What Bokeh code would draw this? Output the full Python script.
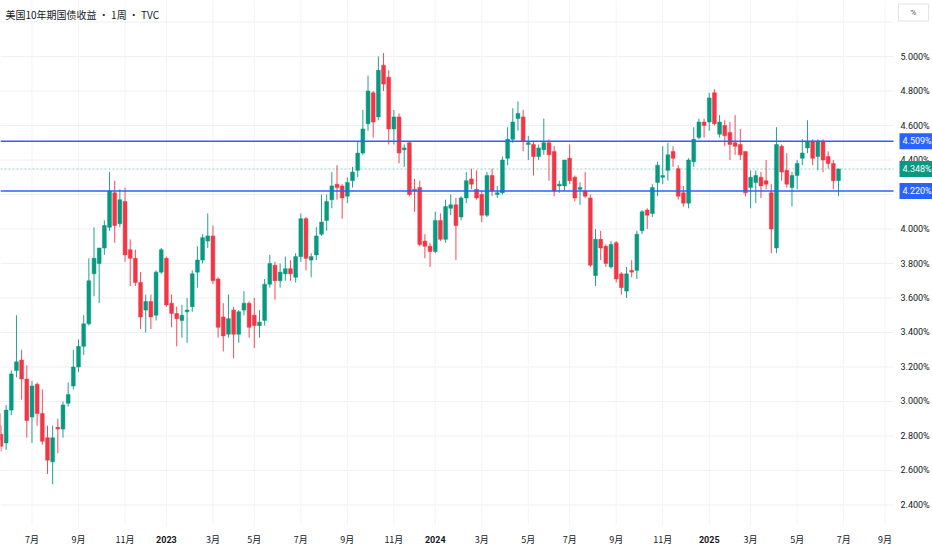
import pandas as pd
from bokeh.plotting import figure
from bokeh.models import Range1d, FixedTicker, PrintfTickFormatter, Label, ColumnDataSource
from bokeh.embed import file_html
from bokeh.resources import INLINE

# ---------------- data ----------------
title_text = "美国10年期国债收益 · 1周 · TVC"
first_week = "2022-05-16"   # weekly bars, one per week from this Monday

open_ = [2.93, 2.81, 2.76, 2.95, 3.18, 3.24, 3.13, 2.91, 3.10, 2.93, 2.79, 2.65, 2.85, 2.84, 2.99, 3.09,
         3.20, 3.32, 3.45, 3.74, 3.80, 3.89, 4.01, 4.21, 4.03, 4.16, 3.88, 3.83, 3.69, 3.53, 3.58, 3.50,
         3.75, 3.83, 3.57, 3.51, 3.47, 3.52, 3.55, 3.75, 3.82, 3.93, 3.96, 3.71, 3.49, 3.39, 3.53, 3.39,
         3.53, 3.57, 3.50, 3.44, 3.47, 3.68, 3.79, 3.70, 3.74, 3.77, 3.72, 3.84, 4.06, 3.82, 3.85, 3.97,
         4.05, 4.17, 4.26, 4.25, 4.19, 4.28, 4.34, 4.44, 4.61, 4.79, 4.65, 4.95, 4.88, 4.58, 4.65, 4.46,
         4.50, 4.23, 4.24, 3.93, 3.90, 3.87, 4.05, 3.94, 4.12, 4.14, 4.07, 4.18, 4.29, 4.23, 4.20, 4.08,
         4.31, 4.20, 4.21, 4.41, 4.52, 4.64, 4.65, 4.49, 4.49, 4.42, 4.46, 4.50, 4.45, 4.25, 4.25, 4.41,
         4.30, 4.23, 4.22, 4.18, 3.73, 3.94, 3.90, 3.78, 3.92, 3.74, 3.64, 3.76, 3.76, 3.99, 4.11, 4.09,
         4.27, 4.30, 4.34, 4.45, 4.35, 4.21, 4.15, 4.39, 4.53, 4.62, 4.62, 4.79, 4.55, 4.60, 4.56, 4.50,
         4.49, 4.45, 4.24, 4.27, 4.30, 4.28, 4.21, 3.89, 4.48, 4.34, 4.24, 4.31, 4.41, 4.47, 4.51, 4.42,
         4.51, 4.42, 4.38, 4.28]
high = [2.99, 2.86, 2.98, 3.18, 3.50, 3.30, 3.21, 3.12, 3.11, 3.07, 2.86, 2.86, 2.90, 3.00, 3.11, 3.30,
        3.36, 3.50, 3.83, 4.01, 3.89, 4.05, 4.33, 4.28, 4.23, 4.24, 3.94, 3.88, 3.75, 3.62, 3.62, 3.76,
        3.89, 3.84, 3.62, 3.55, 3.56, 3.60, 3.76, 3.90, 3.97, 4.09, 4.02, 3.72, 3.57, 3.62, 3.55, 3.53,
        3.64, 3.58, 3.60, 3.53, 3.71, 3.85, 3.81, 3.80, 3.84, 3.82, 3.86, 4.09, 4.07, 3.86, 4.01, 4.20,
        4.20, 4.33, 4.37, 4.26, 4.30, 4.36, 4.51, 4.69, 4.89, 4.80, 5.00, 5.02, 4.92, 4.69, 4.67, 4.49,
        4.51, 4.29, 4.28, 3.97, 3.92, 4.10, 4.09, 4.17, 4.20, 4.18, 4.19, 4.33, 4.35, 4.34, 4.22, 4.33,
        4.35, 4.25, 4.42, 4.59, 4.70, 4.74, 4.69, 4.54, 4.51, 4.49, 4.64, 4.52, 4.48, 4.28, 4.40, 4.49,
        4.31, 4.27, 4.33, 4.20, 4.00, 3.99, 3.91, 3.93, 3.93, 3.75, 3.78, 3.82, 3.99, 4.11, 4.12, 4.26,
        4.39, 4.48, 4.50, 4.48, 4.37, 4.25, 4.41, 4.59, 4.64, 4.64, 4.79, 4.81, 4.66, 4.63, 4.62, 4.66,
        4.58, 4.45, 4.34, 4.34, 4.33, 4.40, 4.26, 4.59, 4.49, 4.44, 4.33, 4.40, 4.52, 4.63, 4.52, 4.52,
        4.52, 4.45, 4.40, 4.35]
low = [2.72, 2.71, 2.72, 2.92, 3.14, 3.01, 2.79, 2.76, 2.86, 2.75, 2.58, 2.52, 2.70, 2.79, 2.97, 3.07,
       3.17, 3.27, 3.44, 3.61, 3.57, 3.85, 3.99, 3.92, 4.01, 3.81, 3.67, 3.67, 3.42, 3.40, 3.42, 3.47,
       3.74, 3.55, 3.43, 3.32, 3.37, 3.34, 3.52, 3.66, 3.80, 3.89, 3.68, 3.37, 3.29, 3.37, 3.25, 3.34,
       3.50, 3.37, 3.31, 3.37, 3.44, 3.66, 3.59, 3.66, 3.70, 3.70, 3.69, 3.81, 3.76, 3.72, 3.82, 3.96,
       3.99, 4.12, 4.17, 4.06, 4.15, 4.24, 4.30, 4.43, 4.57, 4.53, 4.63, 4.80, 4.49, 4.49, 4.38, 4.36,
       4.19, 4.10, 3.90, 3.83, 3.78, 3.86, 3.93, 3.92, 4.08, 3.82, 4.05, 4.15, 4.23, 4.17, 4.04, 4.07,
       4.19, 4.18, 4.20, 4.37, 4.50, 4.57, 4.45, 4.40, 4.31, 4.40, 4.43, 4.28, 4.19, 4.21, 4.22, 4.26,
       4.16, 4.14, 4.18, 3.78, 3.67, 3.82, 3.78, 3.77, 3.69, 3.62, 3.60, 3.72, 3.71, 3.97, 4.00, 4.07,
       4.19, 4.26, 4.28, 4.36, 4.17, 4.13, 4.12, 4.36, 4.52, 4.53, 4.57, 4.60, 4.53, 4.48, 4.40, 4.43,
       4.40, 4.19, 4.12, 4.15, 4.18, 4.23, 3.86, 3.86, 4.28, 4.24, 4.13, 4.23, 4.37, 4.44, 4.37, 4.34,
       4.33, 4.35, 4.23, 4.19]
close_ = [2.78, 2.74, 2.95, 3.16, 3.23, 3.13, 2.89, 3.09, 2.93, 2.77, 2.66, 2.79, 2.84, 2.98, 3.04, 3.20,
          3.32, 3.45, 3.70, 3.83, 3.89, 4.02, 4.22, 4.02, 4.17, 3.85, 3.83, 3.69, 3.49, 3.58, 3.49, 3.75,
          3.88, 3.56, 3.51, 3.48, 3.50, 3.53, 3.74, 3.82, 3.95, 3.96, 3.70, 3.43, 3.38, 3.48, 3.39, 3.52,
          3.57, 3.43, 3.44, 3.46, 3.68, 3.80, 3.70, 3.75, 3.77, 3.74, 3.84, 4.06, 3.83, 3.84, 3.96, 4.04,
          4.16, 4.25, 4.24, 4.18, 4.27, 4.33, 4.44, 4.58, 4.80, 4.62, 4.92, 4.84, 4.58, 4.65, 4.44, 4.47,
          4.20, 4.22, 3.91, 3.90, 3.87, 4.05, 3.94, 4.13, 4.14, 4.02, 4.18, 4.28, 4.26, 4.18, 4.08, 4.31,
          4.22, 4.21, 4.40, 4.52, 4.62, 4.67, 4.51, 4.50, 4.42, 4.47, 4.50, 4.43, 4.22, 4.26, 4.40, 4.28,
          4.18, 4.24, 4.19, 3.79, 3.94, 3.89, 3.80, 3.91, 3.71, 3.66, 3.74, 3.75, 3.97, 4.10, 4.08, 4.24,
          4.37, 4.31, 4.43, 4.41, 4.19, 4.15, 4.40, 4.52, 4.62, 4.60, 4.76, 4.61, 4.62, 4.54, 4.49, 4.48,
          4.43, 4.21, 4.30, 4.31, 4.25, 4.26, 4.00, 4.49, 4.33, 4.26, 4.31, 4.38, 4.44, 4.51, 4.41, 4.51,
          4.40, 4.38, 4.28, 4.348]

level_lines = [4.509, 4.220]
last_price = 4.348

tick_dates = ["2022-07-04", "2022-09-05", "2022-11-07", "2023-01-02", "2023-03-06", "2023-05-01",
              "2023-07-03", "2023-09-04", "2023-11-06", "2024-01-01", "2024-03-04", "2024-05-06",
              "2024-07-01", "2024-09-02", "2024-11-04", "2025-01-06", "2025-03-03", "2025-05-05",
              "2025-07-07", "2025-09-01"]
tick_labels = ["7月", "9月", "11月", "2023", "3月", "5月", "7月", "9月", "11月", "2024",
               "3月", "5月", "7月", "9月", "11月", "2025", "3月", "5月", "7月", "9月"]
y_ticks = [2.4, 2.6, 2.8, 3.0, 3.2, 3.4, 3.6, 3.8, 4.0, 4.2, 4.4, 4.6, 4.8, 5.0]
grid_levels = y_ticks + [5.2]

# ---------------- layout constants ----------------
GREEN = "#089981"
RED = "#f23645"
BLUE = "#2962ff"
TXT = "#131722"
GRID = "#eef0f4"

X_LO, X_HI = 6.38, 1268.27        # visible time window (days from first bar)
Y_LO, Y_HI = 2.13623, 5.32464     # visible price window
PRICE_SCALE_X = 1215.47           # where the price scale starts (time units)
TIME_SCALE_Y = 2.28116            # where the time scale starts (price units)
YEAR_LABEL_Y = 2.200

# ---------------- build ----------------
t0 = pd.Timestamp(first_week)
dates = pd.date_range(first_week, periods=len(close_), freq="7D")
xs = [(d - t0).days for d in dates]
tick_x = [(pd.Timestamp(d) - t0).days for d in tick_dates]

up = [c >= o for o, c in zip(open_, close_)]
df = pd.DataFrame(dict(x=xs, o=open_, h=high, l=low, c=close_))
df["top"] = df[["o", "c"]].max(axis=1)
df["bottom"] = df[["o", "c"]].min(axis=1)
df["color"] = [GREEN if u else RED for u in up]
src = ColumnDataSource(df)

p = figure(width=932, height=550, frame_width=932, frame_height=550,
           x_range=Range1d(X_LO, X_HI), y_range=Range1d(Y_LO, Y_HI),
           x_axis_location="below", y_axis_location="right",
           output_backend="svg", toolbar_location=None,
           min_border=0, min_border_left=0, min_border_right=0, min_border_top=0, min_border_bottom=0,
           background_fill_color="white", border_fill_color="white", outline_line_color=None)
p.grid.visible = False

# grid lines (limited to the chart pane, not under the scales)
p.segment(x0=[X_LO] * len(grid_levels), y0=grid_levels, x1=[PRICE_SCALE_X] * len(grid_levels),
          y1=grid_levels, line_color=GRID, line_width=1)
p.segment(x0=tick_x, y0=[TIME_SCALE_Y] * len(tick_x), x1=tick_x, y1=[Y_HI] * len(tick_x),
          line_color="#f3f4f7", line_width=1)

# y axis (price scale)
yax = p.yaxis[0]
yax.fixed_location = PRICE_SCALE_X
yax.ticker = FixedTicker(ticks=y_ticks)
yax.formatter = PrintfTickFormatter(format="%.3f%%")
yax.axis_line_color = None
yax.major_tick_line_color = None
yax.minor_tick_line_color = None
yax.major_tick_out = 0
yax.major_tick_in = 0
yax.major_label_standoff = 7
yax.major_label_text_font = "Roboto"
yax.major_label_text_font_size = "9px"
yax.major_label_text_color = TXT

# x axis (time scale): months via the axis, years drawn bold
xax = p.xaxis[0]
xax.fixed_location = TIME_SCALE_Y
xax.ticker = FixedTicker(ticks=tick_x)
overrides = {}
year_idx = []
for i, (tx, lab) in enumerate(zip(tick_x, tick_labels)):
    if lab.endswith("月"):
        overrides[tx] = lab
    else:
        overrides[tx] = ""
        year_idx.append(i)
xax.major_label_overrides = overrides
xax.axis_line_color = None
xax.major_tick_line_color = None
xax.minor_tick_line_color = None
xax.major_tick_out = 0
xax.major_tick_in = 0
xax.major_label_standoff = 8
xax.major_label_text_font = "Noto Sans CJK SC"
xax.major_label_text_font_size = "9px"
xax.major_label_text_color = TXT

for i in year_idx:
    p.add_layout(Label(x=tick_x[i], y=YEAR_LABEL_Y, text=tick_labels[i], text_align="center",
                       text_baseline="middle", text_font="Roboto",
                       text_font_size="9px", text_font_style="bold", text_color=TXT))

# candles
p.segment(x0="x", y0="h", x1="x", y1="l", source=src, line_color="color", line_width=1, line_alpha=0.9)
p.vbar(x="x", width=5.2, top="top", bottom="bottom", source=src,
       fill_color="color", line_color="color", line_width=0.5)

# horizontal level lines and last price line
p.segment(x0=[X_LO] * len(level_lines), y0=level_lines, x1=[PRICE_SCALE_X] * len(level_lines),
          y1=level_lines, line_color=BLUE, line_width=1.4)
p.segment(x0=[X_LO], y0=[last_price], x1=[PRICE_SCALE_X], y1=[last_price],
          line_color=GREEN, line_alpha=0.45, line_width=1, line_dash="2 2")

# price tags on the scale
def tag(val, color):
    p.add_layout(Label(x=899, x_units="screen", y=val, y_units="data",
                       text="%.3f%%" % val, text_color="white", text_font="Roboto",
                       text_font_size="9px", text_align="left", text_baseline="middle",
                       background_fill_color=color, padding=3))

for lv in level_lines:
    tag(lv, BLUE)
tag(last_price, GREEN)

# header title
p.add_layout(Label(x=5, x_units="screen", y=5.2435, y_units="data", text=title_text,
                   text_font="Noto Sans CJK SC", text_font_size="10px",
                   text_color=TXT, text_align="left", text_baseline="middle"))

# percent button
p.add_layout(Label(x=913, x_units="screen", y=5.255, y_units="data",
                   text="\u2002\u2002%\u2002\u2002", text_font="Roboto", text_font_size="8px",
                   text_color="#50535e", text_align="center", text_baseline="middle",
                   background_fill_color="white", border_line_color="#e0e3eb", padding=4))

open("out.html", "w").write(file_html(p, INLINE))
